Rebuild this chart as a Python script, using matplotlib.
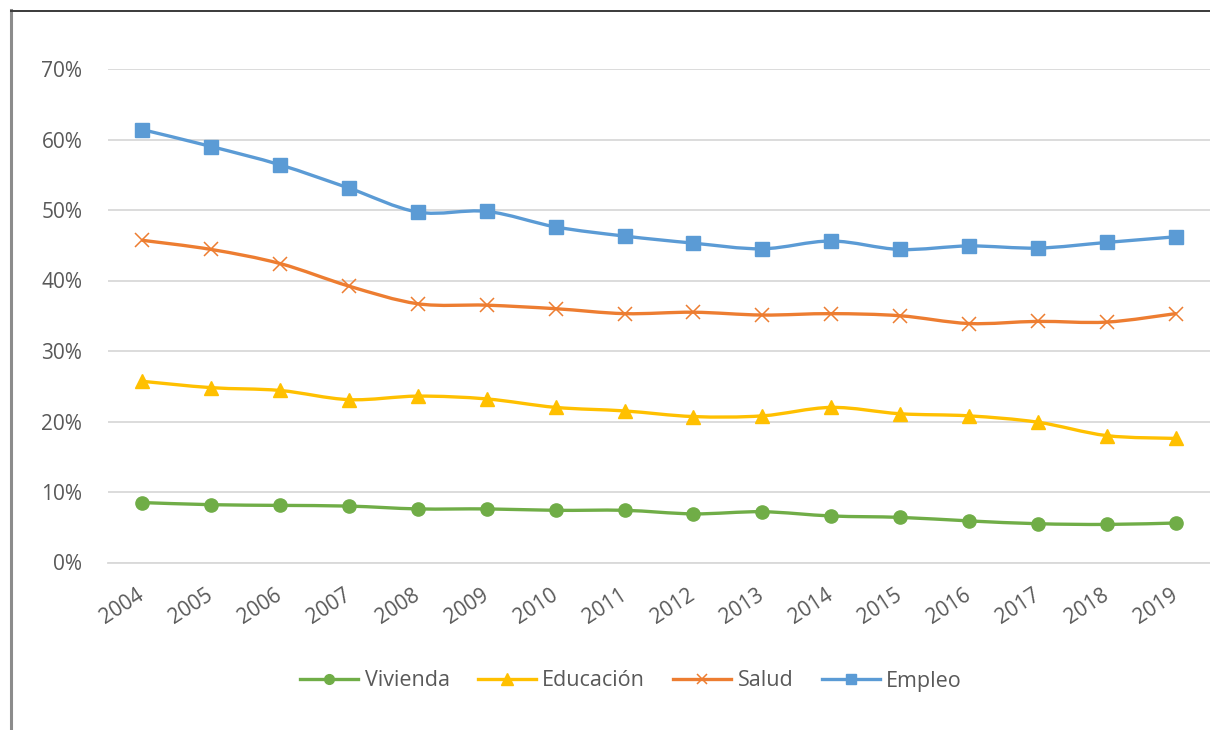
import matplotlib
matplotlib.use("Agg")
import matplotlib.pyplot as plt
from matplotlib.path import Path
from matplotlib.patches import PathPatch
from matplotlib.lines import Line2D
from matplotlib.ticker import FuncFormatter
from matplotlib.transforms import ScaledTranslation
import numpy as np

years = [str(y) for y in range(2004, 2020)]
vivienda = [8.5, 8.2, 8.1, 8.0, 7.6, 7.6, 7.4, 7.4, 6.9, 7.2, 6.6, 6.4, 5.9, 5.5, 5.4, 5.6]
educacion = [25.7, 24.8, 24.4, 23.1, 23.6, 23.2, 22.0, 21.5, 20.7, 20.8, 22.0, 21.1, 20.8, 19.9, 18.0, 17.6]
salud = [45.7, 44.4, 42.4, 39.2, 36.7, 36.5, 36.0, 35.3, 35.5, 35.1, 35.3, 35.0, 33.9, 34.2, 34.1, 35.3]
empleo = [61.4, 59.0, 56.4, 53.1, 49.7, 49.8, 47.6, 46.3, 45.3, 44.5, 45.6, 44.4, 44.9, 44.6, 45.4, 46.2]

series = [
    ("Vivienda", vivienda, "#70AD47", "o"),
    ("Educación", educacion, "#FFC000", "^"),
    ("Salud", salud, "#ED7D31", "x"),
    ("Empleo", empleo, "#5B9BD5", "s"),
]

plt.rcParams["font.family"] = ["Open Sans", "DejaVu Sans"]
TXT = "#595959"
FS = 15

fig = plt.figure(figsize=(12.1, 7.3), dpi=100)
W, H = 1210, 730
ax = fig.add_axes([108 / W, 1 - 562.5 / H, 1102 / W, (562.5 - 69) / H])


def smooth_path(xs, ys):
    """Cubic Bezier path through the points (Catmull-Rom style tangents)."""
    pts = np.column_stack([xs, ys]).astype(float)
    n = len(pts)
    verts = [pts[0]]
    codes = [Path.MOVETO]
    for i in range(n - 1):
        p0 = pts[i - 1] if i > 0 else pts[i]
        p1 = pts[i]
        p2 = pts[i + 1]
        p3 = pts[i + 2] if i + 2 < n else pts[i + 1]
        c1 = p1 + (p2 - p0) / 6.0
        c2 = p2 - (p3 - p1) / 6.0
        verts += [c1, c2, p2]
        codes += [Path.CURVE4] * 3
    return Path(verts, codes)


x = np.arange(len(years))
marker_size = {"o": 9.5, "^": 9.5, "s": 10.5, "x": 9.5}
legend_size = {"o": 7, "^": 8, "s": 7.5, "x": 7.5}
handles = []
for name, vals, color, marker in series:
    ax.add_patch(PathPatch(smooth_path(x, vals), fill=False, edgecolor=color,
                           lw=2.4, capstyle="round", joinstyle="round", zorder=3))
    mew = 1.1 if marker == "x" else 1.0
    ax.plot(x, vals, ls="none", marker=marker, ms=marker_size[marker],
            mew=mew, color=color, mec=color, zorder=4, clip_on=False)
    h = Line2D([], [], color=color, lw=2.4, marker=marker,
               ms=legend_size[marker], mew=mew, mec=color)
    handles.append((h, name))

ax.set_xlim(-0.5, len(years) - 0.5)
ax.set_ylim(0, 70)
ax.set_yticks(np.arange(0, 71, 10))
ax.yaxis.set_major_formatter(FuncFormatter(lambda v, p: f"{v:.0f}%"))
ax.set_xticks(x)
ax.set_xticklabels(years, rotation=33, ha="right", va="center",
                   rotation_mode="anchor")
shift = ScaledTranslation(-4 / 100, 0, fig.dpi_scale_trans)
for lab in ax.get_xticklabels():
    lab.set_transform(lab.get_transform() + shift)
ax.grid(axis="y", color="#D9D9D9", lw=1.3)
ax.set_axisbelow(True)
for s in ["top", "right", "left"]:
    ax.spines[s].set_visible(False)
ax.spines["bottom"].set_color("#D9D9D9")
ax.spines["bottom"].set_linewidth(1.3)
ax.tick_params(axis="both", length=0, labelsize=FS, labelcolor=TXT)
ax.tick_params(axis="y", pad=18.5)
ax.tick_params(axis="x", pad=22)

fig.legend([h for h, _ in handles], [n for _, n in handles], ncol=4,
           loc="center", bbox_to_anchor=(631 / W, 1 - 681 / H), frameon=False,
           fontsize=FS + 0.5, labelcolor=TXT, handlelength=2.7,
           handletextpad=0.3, columnspacing=1.3)

# frame lines along the top and left edges of the figure
fig.add_artist(Line2D([11.5 / W, 11.5 / W], [0, 1 - 10 / H], color="#8C8C8C",
                      lw=2.2, transform=fig.transFigure))
fig.add_artist(Line2D([11.5 / W, 1], [1 - 10.5 / H, 1 - 10.5 / H],
                      color="#3A3A3A", lw=1.4, transform=fig.transFigure))

fig.savefig("out.png", dpi=100)
